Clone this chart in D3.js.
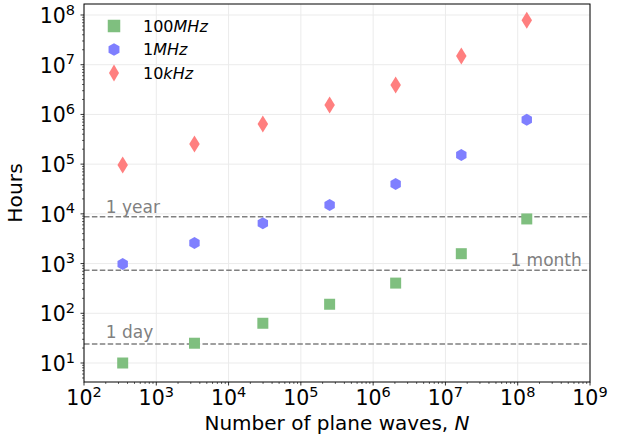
<!DOCTYPE html>
<html>
<head>
<meta charset="utf-8">
<script src="https://cdn.jsdelivr.net/npm/d3@7"></script>
<style>
  body { margin: 0; background: #fff; }
  text { font-family: "DejaVu Sans", sans-serif; }
</style>
</head>
<body>
<div id="chart"></div>
<script>
// number of plane waves (7^3, 15^3, ... 511^3)
let planeWaves = [343, 3375, 29791, 250047, 2048383, 16581375, 133432831];

let hours100MHz = [10, 25, 63, 152, 405, 1580, 7900];
let hours1MHz = [980, 2580, 6500, 15000, 40000, 152000, 780000];
let hours10kHz = [96000, 254000, 640000, 1540000, 3900000, 15000000, 78000000];

let seriesNames = ["100", "1", "10"];
let seriesUnits = ["MHz", "MHz", "kHz"];

let refHours = [8760, 730, 24];
let refLabels = ["1 year", "1 month", "1 day"];

let xTickExps = [2, 3, 4, 5, 6, 7, 8, 9];
let yTickExps = [1, 2, 3, 4, 5, 6, 7, 8];

let width = 631, height = 440;
let margin = { left: 84, right: 41, top: 4, bottom: 58 };
let iw = width - margin.left - margin.right;
let ih = height - margin.top - margin.bottom;

let svg = d3.select("#chart").append("svg")
    .attr("width", width)
    .attr("height", height);

let x = d3.scaleLog().domain([1e2, 1e9]).range([0, iw]);
let y = d3.scaleLog().domain([Math.pow(10, 0.618), Math.pow(10, 8.221)]).range([ih, 0]);

let g = svg.append("g").attr("transform", `translate(${margin.left},${margin.top})`);

// grid
g.selectAll(".gx").data(xTickExps).enter().append("line")
    .attr("x1", d => x(Math.pow(10, d))).attr("x2", d => x(Math.pow(10, d)))
    .attr("y1", 0).attr("y2", ih)
    .attr("stroke", "#ebebeb").attr("stroke-width", 1);
g.selectAll(".gy").data(yTickExps).enter().append("line")
    .attr("x1", 0).attr("x2", iw)
    .attr("y1", d => y(Math.pow(10, d))).attr("y2", d => y(Math.pow(10, d)))
    .attr("stroke", "#ebebeb").attr("stroke-width", 1);

// reference lines
g.selectAll(".ref").data(refHours).enter().append("line")
    .attr("x1", 0).attr("x2", iw)
    .attr("y1", d => y(d)).attr("y2", d => y(d))
    .attr("stroke", "#808080").attr("stroke-width", 1.5)
    .attr("stroke-dasharray", "5.5,2.4");

let refX = [200, 7.7e8, 200];
let refAnchor = ["start", "end", "start"];
let refDy = [-4, -4, -6];
g.selectAll(".reflabel").data(refLabels).enter().append("text")
    .attr("x", (d, i) => x(refX[i]))
    .attr("y", (d, i) => y(refHours[i]) + refDy[i])
    .attr("text-anchor", (d, i) => refAnchor[i])
    .attr("font-size", 17)
    .attr("fill", "#808080")
    .text(d => d);

// markers
let green = "#7fbf7f", blue = "#7f7fff", red = "#ff7f7f";

function squarePath(s) {
    let h = s / 2;
    return `M${-h},${-h}L${h},${-h}L${h},${h}L${-h},${h}Z`;
}
function hexPath(r) {
    let pts = d3.range(6).map(i => {
        let a = Math.PI / 3 * i - Math.PI / 2;
        return [r * Math.cos(a), r * Math.sin(a)];
    });
    return "M" + pts.map(p => p.join(",")).join("L") + "Z";
}
function diamondPath(w, h) {
    return `M0,${-h / 2}L${w / 2},0L0,${h / 2}L${-w / 2},0Z`;
}

let shapes = [squarePath(11), hexPath(6), diamondPath(10.5, 17)];
let colors = [green, blue, red];
let allSeries = [hours100MHz, hours1MHz, hours10kHz];

allSeries.forEach((vals, si) => {
    g.selectAll(".s" + si)
        .data(vals)
        .enter()
        .append("path")
        .attr("d", shapes[si])
        .attr("fill", colors[si])
        .attr("transform", (d, i) => `translate(${x(planeWaves[i])},${y(d)})`);
});

// axes frame
g.append("rect")
    .attr("x", 0).attr("y", 0).attr("width", iw).attr("height", ih)
    .attr("fill", "none").attr("stroke", "#000").attr("stroke-width", 1);

// ticks
let minorX = [];
xTickExps.slice(0, -1).forEach(e => { for (let k = 2; k < 10; k++) minorX.push(k * Math.pow(10, e)); });
let minorY = [];
[0, 1, 2, 3, 4, 5, 6, 7, 8].forEach(e => {
    for (let k = 2; k < 10; k++) {
        let v = k * Math.pow(10, e);
        if (v > y.domain()[0] && v < y.domain()[1]) minorY.push(v);
    }
});

g.selectAll(".mx").data(minorX).enter().append("line")
    .attr("x1", d => x(d)).attr("x2", d => x(d))
    .attr("y1", ih).attr("y2", ih + 2)
    .attr("stroke", "#000").attr("stroke-width", 0.6);
g.selectAll(".tx").data(xTickExps).enter().append("line")
    .attr("x1", d => x(Math.pow(10, d))).attr("x2", d => x(Math.pow(10, d)))
    .attr("y1", ih).attr("y2", ih + 3.5)
    .attr("stroke", "#000").attr("stroke-width", 0.8);
g.selectAll(".my").data(minorY).enter().append("line")
    .attr("x1", -2).attr("x2", 0)
    .attr("y1", d => y(d)).attr("y2", d => y(d))
    .attr("stroke", "#000").attr("stroke-width", 0.6);
g.selectAll(".ty").data(yTickExps).enter().append("line")
    .attr("x1", -3.5).attr("x2", 0)
    .attr("y1", d => y(Math.pow(10, d))).attr("y2", d => y(Math.pow(10, d)))
    .attr("stroke", "#000").attr("stroke-width", 0.8);

// tick labels
function powLabel(sel) {
    sel.append("tspan").attr("font-size", 20.5).text("10");
    sel.append("tspan").attr("font-size", 14.5).attr("dy", -8.5).text(d => d);
}
g.selectAll(".lx").data(xTickExps).enter().append("text")
    .attr("x", d => x(Math.pow(10, d)))
    .attr("y", ih + 23)
    .attr("text-anchor", "middle")
    .attr("fill", "#000")
    .call(powLabel);
g.selectAll(".ly").data(yTickExps).enter().append("text")
    .attr("x", -9)
    .attr("y", d => y(Math.pow(10, d)) + 8)
    .attr("text-anchor", "end")
    .attr("fill", "#000")
    .call(powLabel);

// axis titles
let xt = g.append("text")
    .attr("x", iw / 2)
    .attr("y", ih + 47.5)
    .attr("text-anchor", "middle")
    .attr("font-size", 20);
xt.append("tspan").text("Number of plane waves, ");
xt.append("tspan").attr("font-style", "italic").text("N");

g.append("text")
    .attr("transform", `translate(${-62},${ih / 2}) rotate(-90)`)
    .attr("text-anchor", "middle")
    .attr("font-size", 20.3)
    .text("Hours");

// legend
let legendShapes = [squarePath(12.5), hexPath(6.3), diamondPath(10, 17)];
let legend = g.selectAll(".leg").data(seriesNames).enter().append("g")
    .attr("transform", (d, i) => `translate(30,${22 + i * 23.5})`);
legend.append("path")
    .attr("d", (d, i) => legendShapes[i])
    .attr("fill", (d, i) => colors[i]);
let lt = legend.append("text")
    .attr("x", 29)
    .attr("y", 5.5)
    .attr("font-size", 16);
lt.append("tspan").text(d => d);
lt.append("tspan").attr("font-style", "italic").text((d, i) => seriesUnits[i]);
</script>
</body>
</html>
